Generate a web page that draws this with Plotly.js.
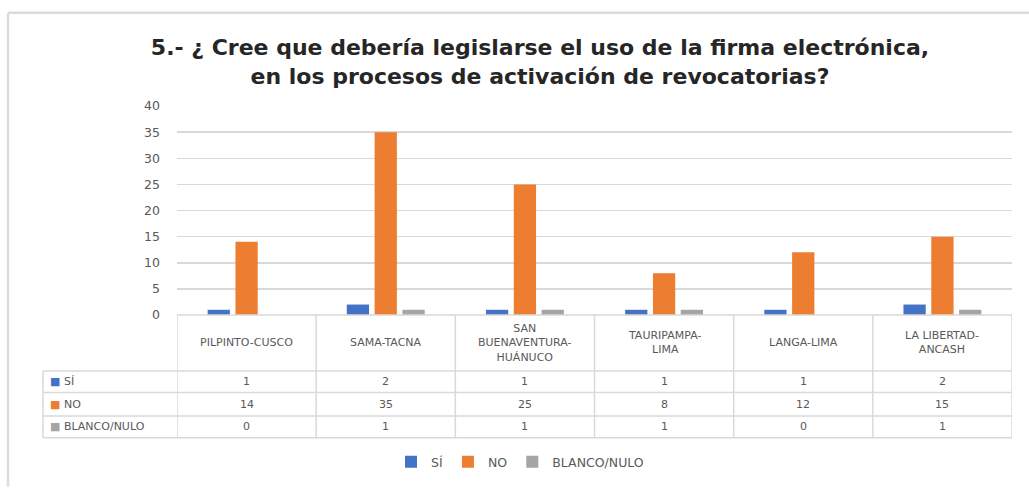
<!DOCTYPE html>
<html>
<head>
<meta charset="utf-8">
<script src="https://cdn.plot.ly/plotly-3.0.1.min.js"></script>
<style>html,body{margin:0;padding:0;background:#fff;}#chart{width:1029px;height:489px;}</style>
</head>
<body>
<div id="chart"></div>
<script>
const categories = ['PILPINTO-CUSCO', 'SAMA-TACNA', 'SAN BUENAVENTURA-HUÁNUCO', 'TAURIPAMPA-LIMA', 'LANGA-LIMA', 'LA LIBERTAD-ANCASH'];
const headerLabels = ['PILPINTO-CUSCO', 'SAMA-TACNA', 'SAN<br>BUENAVENTURA-<br>HUÁNUCO', 'TAURIPAMPA-<br>LIMA', 'LANGA-LIMA', 'LA LIBERTAD-<br>ANCASH'];
const seriesNames = ['SÍ', 'NO', 'BLANCO/NULO'];
const siValues = [1, 2, 1, 1, 1, 2];
const noValues = [14, 35, 25, 8, 12, 15];
const blancoValues = [0, 1, 1, 1, 0, 1];
const yTicks = [0, 5, 10, 15, 20, 25, 30, 35, 40];

const colors = ['#4472C4', '#ED7D31', '#A5A5A5'];
const seriesValues = [siValues, noValues, blancoValues];

const W = 1029, H = 489;
const plotL = 177, plotR = 1012, plotT = 106, plotB = 319;
const ph = plotB - plotT, pw = plotR - plotL;
const py = p => (plotB - p) / ph;      // pixel y -> paper y
const px = p => (p - plotL) / pw;      // pixel x -> paper x

const traces = seriesNames.map((n, i) => ({
  type: 'bar', name: n, x: categories, y: seriesValues[i],
  marker: {color: colors[i]}, hoverinfo: 'x+y+name'
}));

const lineColor = '#D9D9D9';
const textColor = '#595959';
const tFont = 'DejaVu Sans, sans-serif';
const shapes = [];
const annotations = [];

const headerBottom = 376, rowBottoms = [398, 422, 444];
const tableLeft = 43;
shapes.push({type:'line', xref:'paper', yref:'paper', x0:0, x1:1, y0:py(plotB), y1:py(plotB), line:{color:lineColor, width:1.5}});
[headerBottom].concat(rowBottoms).forEach(b => {
  shapes.push({type:'line', xref:'paper', yref:'paper', x0:px(tableLeft), x1:1, y0:py(b), y1:py(b), line:{color:lineColor, width:1.5}});
});
for (let k = 0; k <= categories.length; k++) {
  shapes.push({type:'line', xref:'x', yref:'paper', x0:k-0.5, x1:k-0.5, y0:py(plotB), y1:py(rowBottoms[2]), line:{color:lineColor, width:1.5}});
}
shapes.push({type:'line', xref:'paper', yref:'paper', x0:px(tableLeft), x1:px(tableLeft), y0:py(headerBottom), y1:py(rowBottoms[2]), line:{color:lineColor, width:1.5}});
// outer frame
shapes.push({type:'line', xref:'paper', yref:'paper', x0:px(8), x1:px(8), y0:py(11), y1:py(H+5), line:{color:'#DCDCDC', width:2.5}});
shapes.push({type:'line', xref:'paper', yref:'paper', x0:px(8), x1:px(W+5), y0:py(11), y1:py(11), line:{color:'#DCDCDC', width:2.5}});

categories.forEach((c, k) => {
  annotations.push({xref:'x', yref:'paper', x:c, y:py((plotB + headerBottom) / 2), text:headerLabels[k],
    showarrow:false, font:{family:tFont, size:11, color:textColor}, align:'center', yanchor:'middle'});
});
const rowTops = [headerBottom, rowBottoms[0], rowBottoms[1]];
seriesValues.forEach((vals, i) => {
  const yc = py((rowTops[i] + rowBottoms[i]) / 2);
  annotations.push({xref:'paper', yref:'paper', x:px(tableLeft + 5), y:yc, xanchor:'left', yanchor:'middle', showarrow:false,
    text:'<span style="color:' + colors[i] + '">■</span> ' + seriesNames[i],
    font:{family:tFont, size:11, color:textColor}});
  vals.forEach((v, k) => {
    annotations.push({xref:'x', yref:'paper', x:categories[k], y:yc, text:String(v), showarrow:false, yanchor:'middle',
      font:{family:tFont, size:11, color:textColor}});
  });
});

const layout = {
  width: W, height: H,
  margin: {l: plotL, r: W - plotR, t: plotT, b: H - plotB, pad: 0},
  paper_bgcolor: '#fff', plot_bgcolor: '#fff',
  title: {text: '5.- ¿ Cree que debería legislarse el uso de la firma electrónica,<br>en los procesos de activación de revocatorias?',
    x: 540 / W, xanchor: 'center', xref: 'container', y: 1 - 55 / H, yanchor: 'middle', yref: 'container',
    font: {family: 'DejaVu Sans, sans-serif', size: 22, color: '#262626', weight: 'bold'}},
  barmode: 'group', bargap: 0.4, bargroupgap: 0.2,
  xaxis: {type: 'category', range: [-0.5, categories.length - 0.5], showticklabels: false, ticks: '', showgrid: false, zeroline: false, showline: false, fixedrange: true},
  yaxis: {range: [0, 40], tickvals: yTicks, ticktext: yTicks.map(String), showgrid: true, gridcolor: '#D9D9D9', gridwidth: 1.5,
    zeroline: false, showline: false, ticks: '', ticklabelstandoff: 16,
    tickfont: {family: tFont, size: 12.5, color: textColor}, fixedrange: true},
  showlegend: true,
  legend: {orientation: 'h', xref: 'paper', yref: 'paper', x: px(391), xanchor: 'left', y: py(469), yanchor: 'middle',
    font: {family: tFont, size: 12.5, color: textColor}, itemwidth: 30, tracegroupgap: 0, itemclick: false},
  shapes: shapes,
  annotations: annotations
};

Plotly.newPlot('chart', traces, layout, {displayModeBar: false, staticPlot: true});
</script>
</body>
</html>
